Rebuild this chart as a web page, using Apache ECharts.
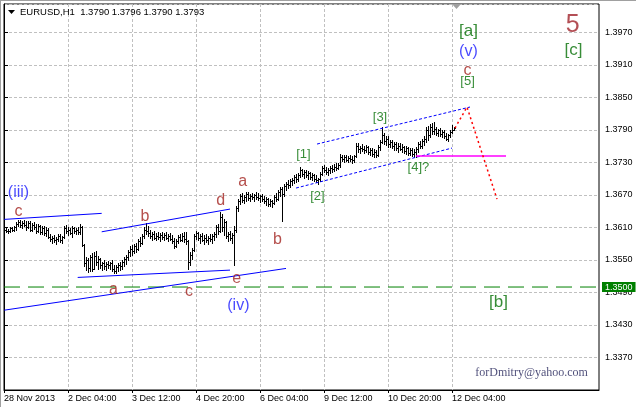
<!DOCTYPE html>
<html>
<head>
<meta charset="utf-8">
<script src="https://cdn.jsdelivr.net/npm/echarts@6/dist/echarts.min.js"></script>
<style>
html,body{margin:0;padding:0;background:#fff;}
#chart{width:636px;height:407px;}
</style>
</head>
<body>
<div id="chart"></div>
<script>
// ---- x axis: hourly bars (index), labels every 32 bars ----
const xTickLabels = ['28 Nov 2013','2 Dec 04:00','3 Dec 12:00','4 Dec 20:00','6 Dec 04:00','9 Dec 12:00','10 Dec 20:00','12 Dec 04:00'];

// ---- EURUSD H1 bars (open, high, low, close) ----
const opens = [
1.3603,1.3605,1.3603,1.3604,1.3608,1.3606,1.3610,1.3617,1.3620,1.3614,1.3619,1.3615,1.3610,1.3618,1.3606,1.3615,1.3611,1.3604,1.3612,1.3602,
1.3609,1.3600,1.3606,1.3593,1.3588,1.3590,1.3586,1.3589,1.3594,1.3587,1.3592,1.3608,1.3603,1.3606,1.3600,1.3608,1.3603,1.3605,1.3601,1.3610,
1.3578,1.3545,1.3550,1.3536,1.3555,1.3534,1.3558,1.3546,1.3552,1.3540,1.3544,1.3538,1.3543,1.3541,1.3545,1.3534,1.3530,1.3537,1.3541,1.3538,
1.3546,1.3551,1.3556,1.3564,1.3570,1.3566,1.3575,1.3571,1.3585,1.3582,1.3595,1.3606,1.3603,1.3599,1.3594,1.3598,1.3591,1.3595,1.3592,1.3596,
1.3593,1.3596,1.3590,1.3594,1.3589,1.3585,1.3576,1.3584,1.3592,1.3587,1.3595,1.3588,1.3584,1.3546,1.3560,1.3568,1.3594,1.3599,1.3590,1.3594,
1.3587,1.3591,1.3586,1.3590,1.3588,1.3594,1.3597,1.3610,1.3604,1.3630,1.3610,1.3620,1.3595,1.3598,1.3590,1.3596,1.3605,1.3646,1.3658,1.3668,
1.3661,1.3666,1.3671,1.3665,1.3668,1.3666,1.3669,1.3667,1.3664,1.3668,1.3662,1.3659,1.3662,1.3654,1.3658,1.3655,1.3666,1.3662,1.3675,1.3680,
1.3672,1.3686,1.3690,1.3688,1.3695,1.3698,1.3703,1.3700,1.3706,1.3715,1.3709,1.3712,1.3707,1.3710,1.3703,1.3706,1.3700,1.3698,1.3699,1.3709,
1.3720,1.3716,1.3713,1.3716,1.3719,1.3717,1.3722,1.3720,1.3726,1.3740,1.3737,1.3739,1.3735,1.3738,1.3736,1.3734,1.3741,1.3760,1.3754,1.3757,
1.3755,1.3752,1.3758,1.3749,1.3752,1.3746,1.3750,1.3744,1.3758,1.3768,1.3780,1.3770,1.3774,1.3763,1.3768,1.3760,1.3764,1.3756,1.3761,1.3755,
1.3758,1.3751,1.3756,1.3748,1.3753,1.3745,1.3750,1.3754,1.3763,1.3760,1.3769,1.3774,1.3790,1.3780,1.3795,1.3788,1.3792,1.3784,1.3789,1.3782,
1.3786,1.3779,1.3774,1.3780,1.3786,1.3790];
const highs = [
1.3608,1.3609,1.3607,1.3610,1.3611,1.3612,1.3620,1.3624,1.3623,1.3622,1.3624,1.3621,1.3622,1.3621,1.3619,1.3620,1.3617,1.3616,1.3615,1.3613,
1.3612,1.3610,1.3608,1.3598,1.3594,1.3596,1.3593,1.3597,1.3598,1.3595,1.3612,1.3614,1.3610,1.3609,1.3613,1.3611,1.3609,1.3610,1.3617,1.3612,
1.3580,1.3556,1.3553,1.3560,1.3562,1.3564,1.3566,1.3557,1.3554,1.3547,1.3549,1.3546,1.3548,1.3547,1.3549,1.3540,1.3541,1.3545,1.3546,1.3549,
1.3555,1.3560,1.3568,1.3576,1.3578,1.3579,1.3581,1.3588,1.3592,1.3598,1.3610,1.3619,1.3612,1.3605,1.3602,1.3603,1.3600,1.3601,1.3599,1.3602,
1.3600,1.3601,1.3598,1.3599,1.3596,1.3590,1.3588,1.3596,1.3598,1.3599,1.3601,1.3602,1.3586,1.3565,1.3572,1.3598,1.3604,1.3602,1.3597,1.3599,
1.3596,1.3598,1.3595,1.3597,1.3598,1.3601,1.3614,1.3616,1.3638,1.3634,1.3625,1.3622,1.3602,1.3603,1.3600,1.3612,1.3650,1.3662,1.3672,1.3674,
1.3670,1.3675,1.3676,1.3672,1.3674,1.3671,1.3675,1.3673,1.3670,1.3672,1.3668,1.3666,1.3665,1.3663,1.3661,1.3670,1.3674,1.3679,1.3685,1.3684,
1.3690,1.3694,1.3697,1.3699,1.3702,1.3706,1.3708,1.3710,1.3721,1.3718,1.3716,1.3716,1.3714,1.3713,1.3711,1.3709,1.3707,1.3702,1.3712,1.3724,
1.3726,1.3722,1.3720,1.3724,1.3726,1.3727,1.3728,1.3729,1.3745,1.3744,1.3743,1.3744,1.3742,1.3743,1.3741,1.3744,1.3766,1.3765,1.3761,1.3763,
1.3760,1.3762,1.3760,1.3757,1.3756,1.3754,1.3753,1.3762,1.3772,1.3796,1.3784,1.3779,1.3778,1.3772,1.3771,1.3768,1.3767,1.3765,1.3766,1.3763,
1.3761,1.3760,1.3759,1.3757,1.3756,1.3754,1.3758,1.3768,1.3770,1.3773,1.3778,1.3795,1.3797,1.3800,1.3802,1.3805,1.3796,1.3792,1.3793,1.3790,
1.3789,1.3785,1.3783,1.3789,1.3799,1.3796];
const lows = [
1.3600,1.3601,1.3599,1.3602,1.3603,1.3604,1.3605,1.3612,1.3611,1.3609,1.3612,1.3606,1.3608,1.3603,1.3604,1.3607,1.3600,1.3601,1.3598,1.3597,
1.3596,1.3595,1.3590,1.3584,1.3581,1.3583,1.3580,1.3584,1.3583,1.3582,1.3590,1.3599,1.3596,1.3597,1.3592,1.3599,1.3597,1.3598,1.3598,1.3575,
1.3538,1.3532,1.3528,1.3530,1.3529,1.3533,1.3540,1.3534,1.3536,1.3532,1.3534,1.3531,1.3535,1.3533,1.3530,1.3525,1.3526,1.3530,1.3532,1.3533,
1.3538,1.3543,1.3550,1.3557,1.3560,1.3562,1.3565,1.3569,1.3576,1.3579,1.3590,1.3598,1.3594,1.3590,1.3587,1.3588,1.3586,1.3588,1.3585,1.3589,
1.3587,1.3588,1.3585,1.3586,1.3582,1.3572,1.3574,1.3581,1.3584,1.3585,1.3583,1.3580,1.3533,1.3540,1.3552,1.3566,1.3588,1.3586,1.3582,1.3584,
1.3580,1.3583,1.3579,1.3584,1.3582,1.3587,1.3593,1.3598,1.3601,1.3604,1.3596,1.3590,1.3584,1.3586,1.3581,1.3540,1.3602,1.3640,1.3654,1.3657,
1.3655,1.3659,1.3660,1.3658,1.3662,1.3659,1.3663,1.3660,1.3657,1.3659,1.3655,1.3652,1.3650,1.3649,1.3648,1.3653,1.3658,1.3660,1.3668,1.3621,
1.3668,1.3679,1.3683,1.3684,1.3688,1.3692,1.3694,1.3696,1.3703,1.3705,1.3702,1.3703,1.3700,1.3699,1.3698,1.3696,1.3694,1.3691,1.3696,1.3706,
1.3712,1.3709,1.3707,1.3711,1.3713,1.3714,1.3715,1.3717,1.3722,1.3733,1.3731,1.3732,1.3730,1.3732,1.3729,1.3731,1.3739,1.3750,1.3748,1.3751,
1.3747,1.3749,1.3745,1.3743,1.3742,1.3740,1.3739,1.3742,1.3752,1.3765,1.3764,1.3762,1.3759,1.3758,1.3756,1.3753,1.3752,1.3750,1.3752,1.3749,
1.3747,1.3746,1.3744,1.3743,1.3741,1.3740,1.3739,1.3750,1.3756,1.3757,1.3762,1.3768,1.3772,1.3776,1.3782,1.3783,1.3780,1.3778,1.3779,1.3776,
1.3775,1.3771,1.3770,1.3776,1.3784,1.3790];
const closes = [
1.3605,1.3603,1.3604,1.3608,1.3606,1.3610,1.3617,1.3620,1.3614,1.3619,1.3615,1.3610,1.3618,1.3606,1.3615,1.3611,1.3604,1.3612,1.3602,1.3609,
1.3600,1.3606,1.3593,1.3588,1.3590,1.3586,1.3589,1.3594,1.3587,1.3592,1.3608,1.3603,1.3606,1.3600,1.3608,1.3603,1.3605,1.3601,1.3610,1.3578,
1.3545,1.3550,1.3536,1.3555,1.3534,1.3558,1.3546,1.3552,1.3540,1.3544,1.3538,1.3543,1.3541,1.3545,1.3534,1.3530,1.3537,1.3541,1.3538,1.3546,
1.3551,1.3556,1.3564,1.3570,1.3566,1.3575,1.3571,1.3585,1.3582,1.3595,1.3606,1.3603,1.3599,1.3594,1.3598,1.3591,1.3595,1.3592,1.3596,1.3593,
1.3596,1.3590,1.3594,1.3589,1.3585,1.3576,1.3584,1.3592,1.3587,1.3595,1.3588,1.3584,1.3546,1.3560,1.3568,1.3594,1.3599,1.3590,1.3594,1.3587,
1.3591,1.3586,1.3590,1.3588,1.3594,1.3597,1.3610,1.3604,1.3630,1.3610,1.3620,1.3595,1.3598,1.3590,1.3596,1.3605,1.3646,1.3658,1.3668,1.3661,
1.3666,1.3671,1.3665,1.3668,1.3666,1.3669,1.3667,1.3664,1.3668,1.3662,1.3659,1.3662,1.3654,1.3658,1.3655,1.3666,1.3662,1.3675,1.3680,1.3672,
1.3686,1.3690,1.3688,1.3695,1.3698,1.3703,1.3700,1.3706,1.3715,1.3709,1.3712,1.3707,1.3710,1.3703,1.3706,1.3700,1.3698,1.3699,1.3709,1.3720,
1.3716,1.3713,1.3716,1.3719,1.3717,1.3722,1.3720,1.3726,1.3740,1.3737,1.3739,1.3735,1.3738,1.3736,1.3734,1.3741,1.3760,1.3754,1.3757,1.3755,
1.3752,1.3758,1.3749,1.3752,1.3746,1.3750,1.3744,1.3758,1.3768,1.3780,1.3770,1.3774,1.3763,1.3768,1.3760,1.3764,1.3756,1.3761,1.3755,1.3758,
1.3751,1.3756,1.3748,1.3753,1.3745,1.3750,1.3754,1.3763,1.3760,1.3769,1.3774,1.3790,1.3780,1.3795,1.3788,1.3792,1.3784,1.3789,1.3782,1.3786,
1.3779,1.3774,1.3780,1.3786,1.3790,1.3793];

// ---- wave annotations (anchor: bar index, price) ----
const redText  = ['c','b','d','a','b','a','c','e','c'];
const redIdx   = [7.2, 70.5, 108.3, 119.3, 136.7, 54.7, 92.5, 116.3, 231.8];
const redPrice = [1.3639, 1.3630, 1.3660, 1.3694, 1.3587, 1.3496, 1.3492, 1.3516, 1.3900];

const blueText  = ['(iii)','(iv)','(v)'];
const blueIdx   = [7.25, 117.2, 232.2];
const bluePrice = [1.3674, 1.3465, 1.3934];

const greenBigText  = ['[a]','[c]','[b]'];
const greenBigIdx   = [232.2, 284.7, 247.2];
const greenBigPrice = [1.3971, 1.3937, 1.3471];

const greenSmallText  = ['[1]','[2]','[3]','[4]?','[5]'];
const greenSmallIdx   = [149.7, 156.7, 188, 207.2, 231.8];
const greenSmallPrice = [1.3745, 1.3667, 1.3813, 1.3720, 1.3879];

const degreeText = ['5'];
const degreeIdx = [284.3];
const degreePrice = [1.3984];

const signText = ['forDmitry@yahoo.com'];
const signIdx = [263.8];
const signPrice = [1.3341];

// ---- drawn lines (bar index, price) ----
const blueSolidLines = [
  [[0.15, 1.36248], [48.85, 1.36359]],
  [[48.85, 1.36019], [113, 1.36438]],
  [[36.85, 1.35177], [113, 1.35312]],
  [[0.15, 1.34573], [141, 1.35343]]
];
const blueChannelLines = [
  [[156.5, 1.37638], [233, 1.38321]],
  [[146, 1.36826], [224, 1.37564]]
];
const redForecast = [[225.5, 1.37933], [231.5, 1.38321], [246.5, 1.36622]];
const magentaLevel = [[206, 1.37416], [251, 1.37416]];
const supportLevel = 1.3500;

// ---- scale helpers ----
const Y_BASE = 1.3310;           // bottom of price scale
const Y_TOP = 1.40222;           // top of price scale
const X_MAX = 297.5;             // bars that fit the window
const Y = p => +((p - Y_BASE) * 10000).toFixed(3);
const fmtPrice = v => (Y_BASE + v / 10000).toFixed(4);

const barData = closes.map((c, i) => [i, Y(opens[i]), Y(highs[i]), Y(lows[i]), Y(c)]);

const SANS = 'Liberation Sans, Arial, sans-serif';

function labelSeries(texts, idx, prices, style) {
  return {
    type: 'scatter', symbolSize: 0, silent: true, z: 10,
    data: texts.map((t, k) => ({ value: [idx[k], Y(prices[k])], name: t })),
    label: Object.assign({ show: true, position: 'inside', formatter: p => p.name, fontFamily: SANS }, style)
  };
}
function lineSeries(pts, style, z) {
  return {
    type: 'line', silent: true, showSymbol: false, symbol: 'none', z: z || 5,
    itemStyle: { color: style.color },
    data: pts.map(p => [p[0], Y(p[1])]), lineStyle: style, animation: false
  };
}

const series = [];
series.push({
  type: 'custom', z: 3,
  data: barData,
  encode: { x: 0, y: [1, 2, 3, 4] },
  renderItem: function (params, api) {
    const i = api.value(0);
    const h = api.coord([i, api.value(2)]);
    const l = api.coord([i, api.value(3)]);
    const c = api.coord([i, api.value(4)]);
    const x = Math.round(h[0]) + 0.5;
    const cy = Math.round(c[1]) + 0.5;
    const st = { stroke: '#000', lineWidth: 1 };
    return { type: 'group', children: [
      { type: 'line', shape: { x1: x, y1: Math.round(h[1]), x2: x, y2: Math.round(l[1]) + 1 }, style: st },
      { type: 'line', shape: { x1: x + 0.5, y1: cy, x2: x + 1.5, y2: cy }, style: st }
    ]};
  }
});
// support level 1.3500 with price tag
series.push({
  type: 'line', silent: true, showSymbol: false, symbol: 'none', z: 4,
  itemStyle: { color: '#008000' },
  lineStyle: { color: '#008000', width: 1, type: [16, 8] },
  data: [[0, Y(supportLevel)], [X_MAX, Y(supportLevel)]],
  endLabel: { show: true, formatter: supportLevel.toFixed(4), color: '#fff',
    backgroundColor: '#008000', padding: [1, 3, 0, 3], fontSize: 9, distance: 3, fontFamily: SANS }
});
blueSolidLines.forEach(l => series.push(lineSeries(l, { color: '#0000ff', width: 1 })));
blueChannelLines.forEach(l => series.push(lineSeries(l, { color: '#0000ff', width: 1, type: [3, 2] })));
series.push(lineSeries(magentaLevel, { color: '#ff00ff', width: 1.5 }));
series.push(lineSeries(redForecast, { color: '#ff0000', width: 1.5, type: [2, 3] }));

series.push(labelSeries(redText, redIdx, redPrice, { color: '#a3231f', fontSize: 16 }));
series.push(labelSeries(blueText, blueIdx, bluePrice, { color: '#1a1aff', fontSize: 16 }));
series.push(labelSeries(greenBigText, greenBigIdx, greenBigPrice, { color: '#067006', fontSize: 17 }));
series.push(labelSeries(greenSmallText, greenSmallIdx, greenSmallPrice, { color: '#067006', fontSize: 13 }));
series.push(labelSeries(degreeText, degreeIdx, degreePrice, { color: '#a0232a', fontSize: 25 }));
series.push(labelSeries(signText, signIdx, signPrice, { color: '#1e1e55', fontSize: 12,
  fontFamily: 'Liberation Serif, Times New Roman, serif' }));

const chart = echarts.init(document.getElementById('chart'), null, { renderer: 'canvas' });
chart.setOption({
  animation: false,
  backgroundColor: '#fff',
  grid: { left: 4, right: 37, top: 4, bottom: 17, show: true, borderColor: '#000', borderWidth: 1 },
  xAxis: {
    type: 'value', min: 0, max: X_MAX, interval: 16,
    axisLine: { show: true, lineStyle: { color: '#000' } },
    axisTick: { show: true, length: 3, lineStyle: { color: '#000' }, customValues: xTickLabels.map((t, k) => k * 32) },
    axisLabel: { show: true, color: '#000', fontSize: 9, margin: 4, align: 'left', fontFamily: SANS, showMaxLabel: false,
      formatter: v => (v % 32 === 0 && xTickLabels[v / 32]) ? xTickLabels[v / 32] : '' },
    splitLine: { show: true, lineStyle: { color: '#c0c0c0', type: [3, 2] } }
  },
  yAxis: {
    type: 'value', position: 'right', min: 0, max: Y(Y_TOP), interval: 60,
    axisLine: { show: true, lineStyle: { color: '#000' } },
    axisTick: { show: true, length: 4, inside: false, lineStyle: { color: '#000' } },
    axisLabel: { show: true, color: '#000', fontSize: 9, margin: 6, showMinLabel: false, showMaxLabel: false,
      fontFamily: SANS, formatter: v => fmtPrice(v) },
    splitLine: { show: true, lineStyle: { color: '#c0c0c0', type: [3, 2] } }
  },
  graphic: [
    { type: 'line', shape: { x1: 0, y1: 0.5, x2: 636, y2: 0.5 }, style: { stroke: '#a0a0a0' }, z: 100 },
    { type: 'line', shape: { x1: 0.5, y1: 0, x2: 0.5, y2: 407 }, style: { stroke: '#a0a0a0' }, z: 100 },
    { type: 'polygon', shape: { points: [[452, 4], [461, 4], [456.5, 9]] }, style: { fill: '#a0a0a0' }, z: 100 },
    { type: 'polygon', shape: { points: [[8, 10], [15, 10], [11.5, 14]] }, style: { fill: '#000' }, z: 100 },
    { type: 'text', left: 20, top: 7, z: 100,
      style: { text: 'EURUSD,H1  1.3790 1.3796 1.3790 1.3793', fill: '#000', fontSize: 9.5, fontFamily: SANS } }
  ],
  series: series
});
</script>
</body>
</html>
